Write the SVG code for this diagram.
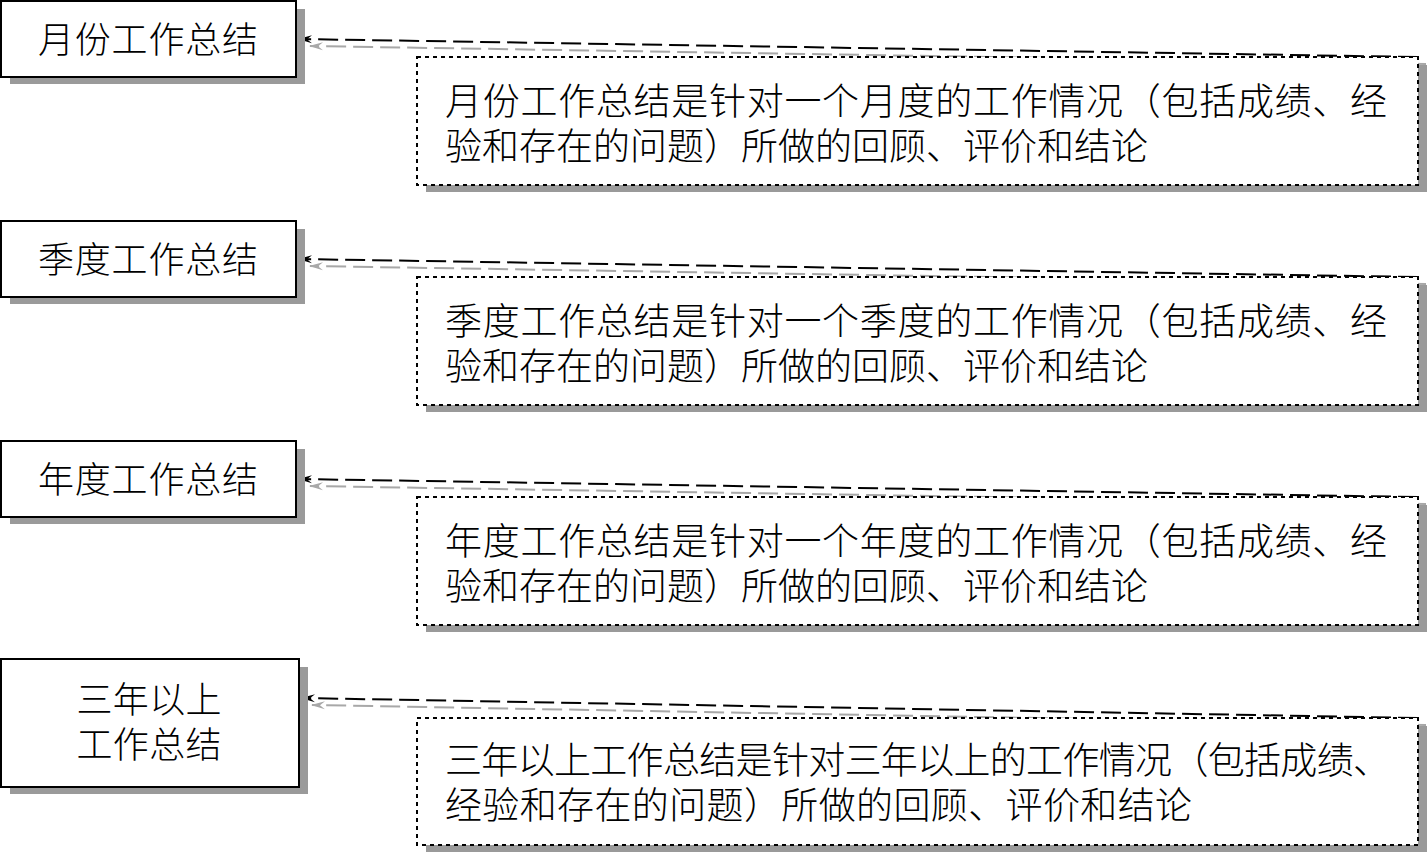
<svg xmlns="http://www.w3.org/2000/svg" width="1428" height="852" viewBox="0 0 1428 852">
<style>
.t{font-family:"Noto Sans CJK SC","Noto Sans",sans-serif;fill:#000;font-weight:300}
.nt{font-size:36px;text-anchor:middle}
.dt{font-size:37px}
.nbox{fill:#fff;stroke:#000;stroke-width:2}
.dbox{fill:#fff;stroke:#000;stroke-width:2;stroke-dasharray:4 4}
.sh{fill:#9a9a9a}
.c{fill:none;stroke:#000;stroke-width:2;stroke-dasharray:20 7}
.cs{fill:none;stroke:#a8a8a8;stroke-width:2;stroke-dasharray:20 7}
</style>
<defs>
<marker id="ah" viewBox="0 0 14 10" refX="13" refY="5" markerWidth="14" markerHeight="10" markerUnits="userSpaceOnUse" orient="auto">
<path d="M0,1 L14,5 L0,9 L5,5 Z" fill="#000"/>
</marker>
<marker id="ahg" viewBox="0 0 14 10" refX="13" refY="5" markerWidth="14" markerHeight="10" markerUnits="userSpaceOnUse" orient="auto">
<path d="M0,1 L14,5 L0,9 L5,5 Z" fill="#a8a8a8"/>
</marker>
</defs>
<g id="connectors">
<path class="cs" d="M1426,64 L310,46" marker-end="url(#ahg)"/>
<path class="c" d="M1418,57 L299,39" marker-end="url(#ah)"/>
<path class="cs" d="M1426,284 L310,266" marker-end="url(#ahg)"/>
<path class="c" d="M1418,277 L299,259" marker-end="url(#ah)"/>
<path class="cs" d="M1426,504 L310,486" marker-end="url(#ahg)"/>
<path class="c" d="M1418,497 L299,479" marker-end="url(#ah)"/>
<path class="cs" d="M1426,725 L312,705" marker-end="url(#ahg)"/>
<path class="c" d="M1418,718 L302,698" marker-end="url(#ah)"/>
</g>
<g id="node1">
<rect class="sh" x="10" y="9" width="295" height="75"/>
<rect class="nbox" x="1" y="1" width="295" height="76"/>
<text class="t nt" x="148" y="53" textLength="220" lengthAdjust="spacing">月份工作总结</text>
</g>
<g id="desc1">
<rect class="sh" x="426" y="65" width="1001" height="127"/>
<rect class="dbox" x="417" y="57" width="1001" height="128"/>
<text class="t dt" x="445" y="115" textLength="942" lengthAdjust="spacing">月份工作总结是针对一个月度的工作情况（包括成绩、经</text>
<text class="t dt" x="445" y="160" textLength="703" lengthAdjust="spacing">验和存在的问题）所做的回顾、评价和结论</text>
</g>
<g id="node2">
<rect class="sh" x="10" y="229" width="295" height="75"/>
<rect class="nbox" x="1" y="221" width="295" height="76"/>
<text class="t nt" x="148" y="273" textLength="220" lengthAdjust="spacing">季度工作总结</text>
</g>
<g id="desc2">
<rect class="sh" x="426" y="285" width="1001" height="127"/>
<rect class="dbox" x="417" y="277" width="1001" height="128"/>
<text class="t dt" x="445" y="335" textLength="942" lengthAdjust="spacing">季度工作总结是针对一个季度的工作情况（包括成绩、经</text>
<text class="t dt" x="445" y="380" textLength="703" lengthAdjust="spacing">验和存在的问题）所做的回顾、评价和结论</text>
</g>
<g id="node3">
<rect class="sh" x="10" y="449" width="295" height="75"/>
<rect class="nbox" x="1" y="441" width="295" height="76"/>
<text class="t nt" x="148" y="493" textLength="220" lengthAdjust="spacing">年度工作总结</text>
</g>
<g id="desc3">
<rect class="sh" x="426" y="505" width="1001" height="127"/>
<rect class="dbox" x="417" y="497" width="1001" height="128"/>
<text class="t dt" x="445" y="555" textLength="942" lengthAdjust="spacing">年度工作总结是针对一个年度的工作情况（包括成绩、经</text>
<text class="t dt" x="445" y="600" textLength="703" lengthAdjust="spacing">验和存在的问题）所做的回顾、评价和结论</text>
</g>
<g id="node4">
<rect class="sh" x="10" y="667" width="298" height="127"/>
<rect class="nbox" x="1" y="659" width="298" height="128"/>
<text class="t nt" x="149" y="713" textLength="145" lengthAdjust="spacing">三年以上</text>
<text class="t nt" x="149" y="758" textLength="145" lengthAdjust="spacing">工作总结</text>
</g>
<g id="desc4">
<rect class="sh" x="426" y="726" width="1001" height="126"/>
<rect class="dbox" x="417" y="718" width="1001" height="127"/>
<text class="t dt" x="445" y="774" textLength="945" lengthAdjust="spacing">三年以上工作总结是针对三年以上的工作情况（包括成绩、</text>
<text class="t dt" x="445" y="819" textLength="747" lengthAdjust="spacing">经验和存在的问题）所做的回顾、评价和结论</text>
</g>
</svg>
